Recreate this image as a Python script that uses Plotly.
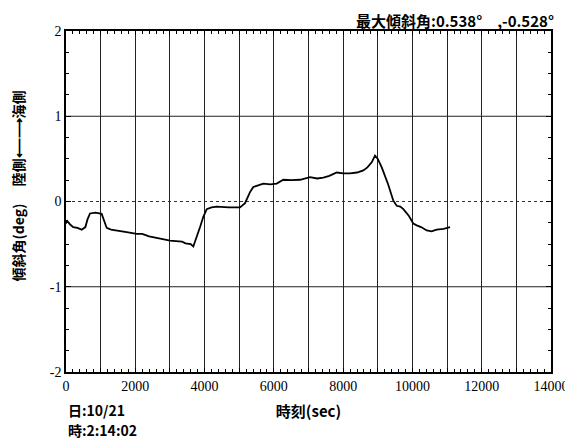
import plotly.graph_objects as go

# Data
time_sec = [0, 20, 120, 210, 330, 453, 560, 620, 693, 850, 1030, 1100, 1175, 1300, 1500,
            1750, 2040, 2200, 2400, 2713, 2900, 3000, 3195, 3350, 3450, 3600, 3675, 3773,
            3870, 3964, 4062, 4200, 4350, 4700, 5023, 5168, 5250, 5312, 5407, 5550, 5696,
            5900, 6082, 6273, 6500, 6755, 7044, 7250, 7428, 7600, 7815, 8000, 8199, 8400,
            8583, 8700, 8825, 8920, 9000, 9114, 9300, 9449, 9546, 9650, 9738, 9900, 10026,
            10124, 10250, 10413, 10550, 10701, 10900, 11085]
tilt_deg = [-0.26, -0.22, -0.27, -0.30, -0.31, -0.33, -0.30, -0.21, -0.14, -0.13, -0.145,
            -0.22, -0.31, -0.33, -0.34, -0.36, -0.38, -0.38, -0.41, -0.43, -0.45, -0.46,
            -0.47, -0.47, -0.49, -0.50, -0.528, -0.42, -0.30, -0.18, -0.09, -0.07, -0.06,
            -0.07, -0.07, -0.02, 0.06, 0.11, 0.17, 0.19, 0.21, 0.20, 0.21, 0.255, 0.25,
            0.255, 0.286, 0.27, 0.28, 0.30, 0.34, 0.33, 0.33, 0.34, 0.365, 0.40, 0.46,
            0.538, 0.50, 0.40, 0.20, 0.01, -0.05, -0.06, -0.09, -0.17, -0.26, -0.28, -0.30,
            -0.34, -0.35, -0.33, -0.32, -0.30]

x_tick_vals = list(range(0, 14001, 1000))
x_tick_text = [str(v) if v % 2000 == 0 else "" for v in x_tick_vals]
y_tick_vals = [-2, -1, 0, 1, 2]
y_tick_text = ["-2", "-1", "0", "1", "2"]

title_right = "最大傾斜角:0.538°　,-0.528°"
x_title = "時刻(sec)"
y_title = "傾斜角(deg)　 陸側⟵⟶海側"
date_text = "日:10/21"
time_text = "時:2:14:02"

JP = "Noto Sans CJK JP"
NUM = "Liberation Serif, Times New Roman, serif"

fig = go.Figure()
fig.add_trace(go.Scatter(x=time_sec, y=tilt_deg, mode="lines",
                         line=dict(color="black", width=1.8), showlegend=False))

fig.add_hline(y=0, line=dict(color="#333333", width=1, dash="dot"), layer="below")
for yv in [-1, 1]:
    fig.add_hline(y=yv, line=dict(color="#222222", width=1), layer="below")

# page body has an 8px margin, so the figure is sized to fit the window
fig.update_layout(
    width=565, height=434,
    margin=dict(l=58, r=22, t=23, b=70, autoexpand=False),
    paper_bgcolor="white", plot_bgcolor="white",
    font=dict(family=NUM, color="black", size=14),
)
fig.update_xaxes(
    range=[0, 14000], tickvals=x_tick_vals, ticktext=x_tick_text,
    showgrid=True, gridcolor="#222222", gridwidth=1, automargin=False,
    showline=True, linecolor="black", linewidth=1.5, mirror="allticks",
    ticks="inside", ticklen=4, tickcolor="black",
    minor=dict(dtick=200, ticks="inside", ticklen=3, tickcolor="black", showgrid=False),
    tickfont=dict(family=NUM, size=14, color="black"),
    zeroline=False,
    title=dict(text=x_title, font=dict(family=JP, size=15, weight="bold"), standoff=14),
)
fig.update_yaxes(
    range=[-2, 2], tickvals=y_tick_vals, ticktext=y_tick_text,
    showgrid=False, automargin=False,
    showline=True, linecolor="black", linewidth=1.5, mirror="allticks",
    ticks="inside", ticklen=5, tickcolor="black",
    minor=dict(dtick=0.25, ticks="inside", ticklen=3, tickcolor="black", showgrid=False),
    tickfont=dict(family=NUM, size=14, color="black"),
    zeroline=False,
)

fig.add_annotation(text=y_title, xref="paper", yref="paper", x=0, y=0.544,
                   xanchor="center", yanchor="middle", xshift=-48, textangle=-90,
                   showarrow=False, font=dict(family=JP, size=14, weight="bold"))
fig.add_annotation(text=title_right, xref="paper", yref="paper", x=1.01, y=1.0,
                   xanchor="right", yanchor="bottom", yshift=-2, showarrow=False,
                   font=dict(family=JP, size=15, weight="bold"))
fig.add_annotation(text=date_text, xref="paper", yref="paper", x=0, y=0,
                   xanchor="left", yanchor="top", yshift=-26, showarrow=False,
                   font=dict(family=JP, size=14, weight="bold"))
fig.add_annotation(text=time_text, xref="paper", yref="paper", x=0, y=0,
                   xanchor="left", yanchor="top", yshift=-46, showarrow=False,
                   font=dict(family=JP, size=14, weight="bold"))

fig.write_html("out.html")
